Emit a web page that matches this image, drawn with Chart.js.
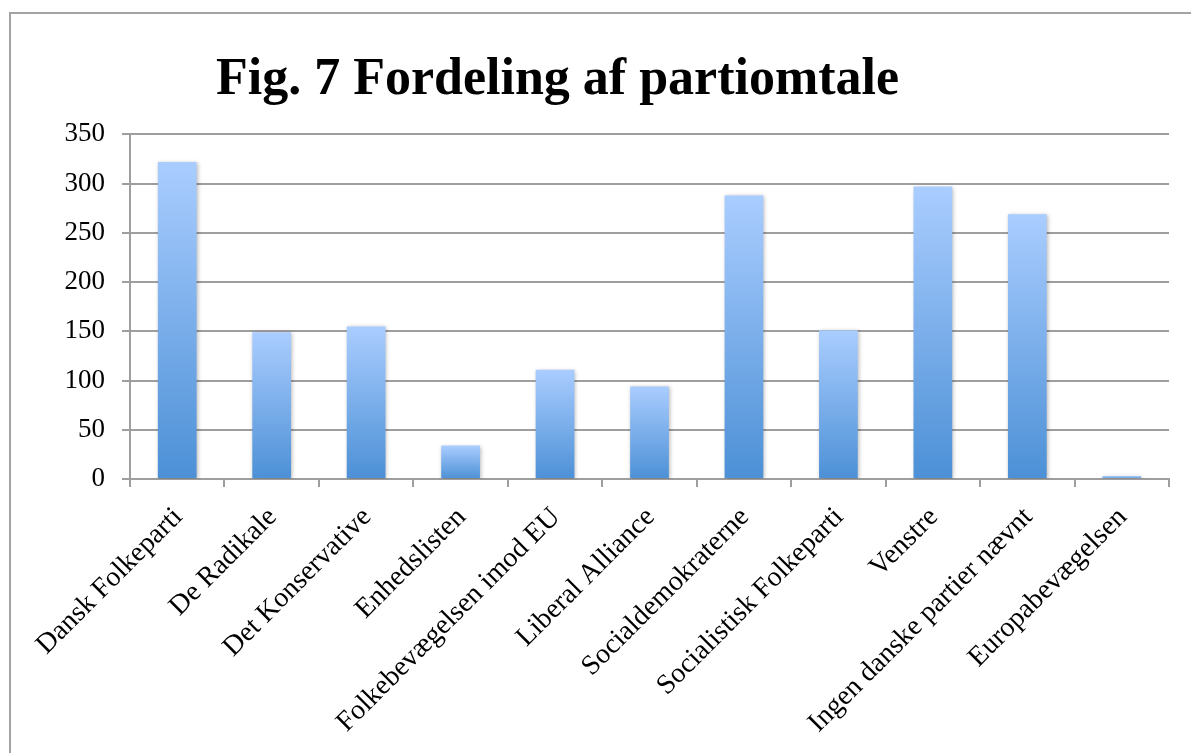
<!DOCTYPE html>
<html>
<head>
<meta charset="utf-8">
<script src="https://cdn.jsdelivr.net/npm/chart.js@4.4.0/dist/chart.umd.min.js"></script>
<style>
html,body{margin:0;padding:0;background:#fff;overflow:hidden;}
#wrap{position:relative;width:1191px;height:753px;}
#frame{position:absolute;left:9px;top:12px;width:1400px;height:1000px;border:2px solid #a3a3a3;box-sizing:border-box;}
canvas{position:absolute;left:0;top:0;}
</style>
</head>
<body>
<div id="wrap">
<div id="frame"></div>
<canvas id="c" width="1191" height="753"></canvas>
</div>
<script>
const titleText = 'Fig. 7 Fordeling af partiomtale';
const categories = ['Dansk Folkeparti','De Radikale','Det Konservative','Enhedslisten','Folkebevægelsen imod EU','Liberal Alliance','Socialdemokraterne','Socialistisk Folkeparti','Venstre','Ingen danske partier nævnt','Europabevægelsen'];
const values = [322,149,155,34,111,94,288,151,297,269,3];
const yMin = 0, yMax = 350, yStep = 50;

const FONT = '"Liberation Serif", "Times New Roman", serif';

const titleShift = {
  id: 'titleShift',
  afterLayout(chart) {
    const t = chart.titleBlock;
    if (t) { t.left = 0; t.right = 1115; }
  }
};
const barShadow = {
  id: 'barShadow',
  beforeDatasetsDraw(chart) {
    const c = chart.ctx;
    c.save();
    c.shadowColor = 'rgba(0,0,0,0.28)';
    c.shadowBlur = 4;
    c.shadowOffsetX = 1;
    c.shadowOffsetY = 1;
  },
  afterDatasetsDraw(chart) { chart.ctx.restore(); }
};

new Chart(document.getElementById('c'), {
  type: 'bar',
  data: {
    labels: categories,
    datasets: [{
      data: values,
      barPercentage: 0.41,
      categoryPercentage: 1.0,
      borderWidth: 0,
      backgroundColor(ctx) {
        const chart = ctx.chart;
        if (!chart.chartArea) return '#7aa9e6';
        const y = chart.scales.y;
        const top = y.getPixelForValue(ctx.raw);
        const bottom = y.getPixelForValue(0);
        if (bottom - top < 2) return '#9cc2f5';
        const g = chart.ctx.createLinearGradient(0, top, 0, bottom);
        g.addColorStop(0, '#aacdff');
        g.addColorStop(1, '#4c90d6');
        return g;
      }
    }]
  },
  options: {
    responsive: false,
    animation: false,
    layout: { padding: { left: 0, right: 22, top: 0, bottom: 0 } },
    plugins: {
      legend: { display: false },
      tooltip: { enabled: false },
      title: {
        display: true,
        text: titleText,
        color: '#000',
        font: { family: FONT, size: 52, weight: 'bold' },
        padding: { top: 49, bottom: 23 }
      }
    },
    scales: {
      x: {
        afterFit(s) { s.height = 274; },
        grid: { display: true, drawOnChartArea: false, drawTicks: true, tickLength: 8, color: '#9e9e9e', lineWidth: 2 },
        border: { display: true, color: '#9e9e9e', width: 2 },
        ticks: { color: '#000', font: { family: FONT, size: 28 }, maxRotation: 45, minRotation: 45, autoSkip: false, padding: 14, labelOffset: 1 }
      },
      y: {
        min: yMin, max: yMax,
        afterFit(s) { s.width = 130; },
        grid: { color: '#9e9e9e', lineWidth: 2, tickLength: 8 },
        border: { display: true, color: '#9e9e9e', width: 2 },
        ticks: { stepSize: yStep, color: '#000', font: { family: FONT, size: 27 }, padding: 17 }
      }
    }
  },
  plugins: [titleShift, barShadow]
});
</script>
</body>
</html>
